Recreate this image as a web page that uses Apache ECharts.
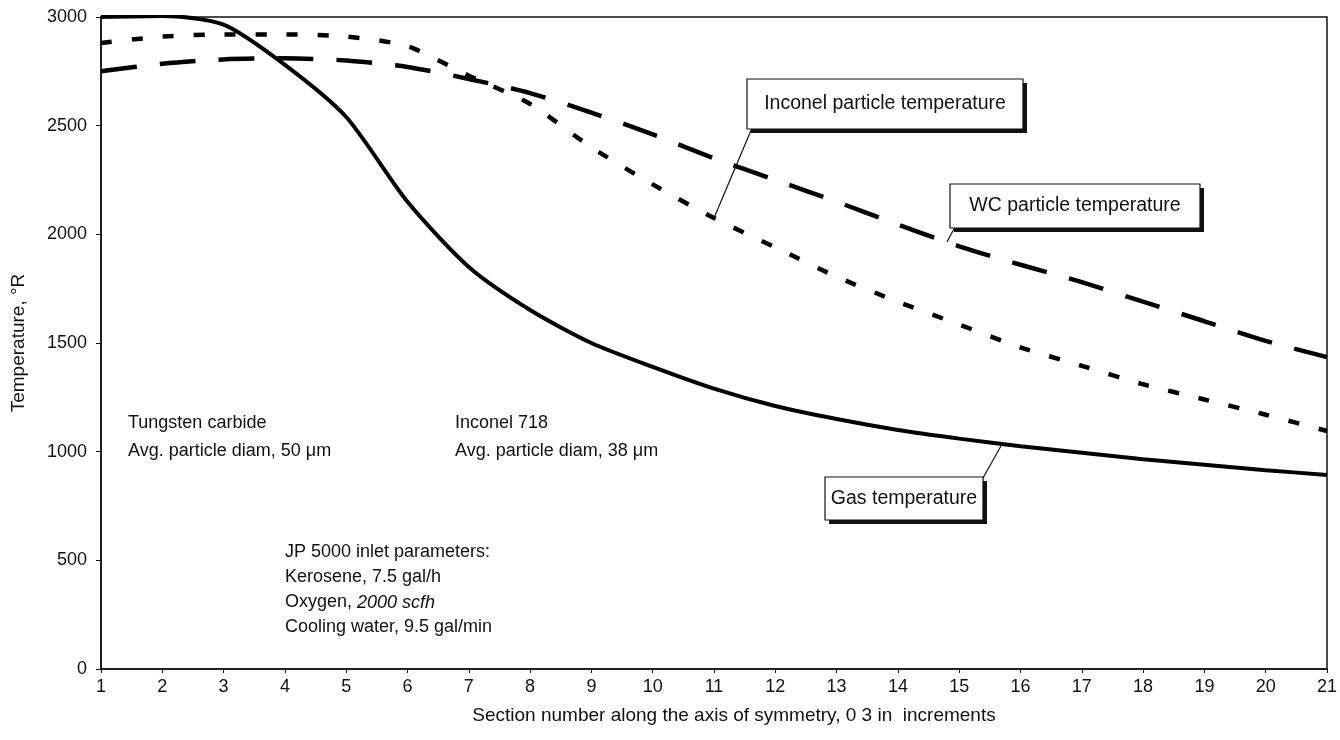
<!DOCTYPE html>
<html>
<head>
<meta charset="utf-8">
<title>Temperature along the axis of symmetry</title>
<script src="https://cdn.jsdelivr.net/npm/echarts@6/dist/echarts.min.js"></script>
<style>
  html, body { margin: 0; padding: 0; background: #fff; }
  #main { width: 1340px; height: 740px; }
</style>
</head>
<body>
<div id="main"></div>
<script>
// section numbers along x
var sections = [1, 2, 3, 4, 5, 6, 7, 8, 9, 10, 11, 12, 13, 14, 15, 16, 17, 18, 19, 20, 21];
// temperatures, deg R
var gasTemp = [3000, 3005, 2965, 2780, 2540, 2150, 1850, 1652, 1500, 1390, 1290, 1210, 1150, 1100, 1060, 1025, 995, 965, 940, 915, 893];
var wcTemp = [2750, 2785, 2805, 2810, 2800, 2770, 2715, 2650, 2560, 2460, 2350, 2250, 2150, 2045, 1945, 1860, 1780, 1690, 1600, 1510, 1435];
var inconelTemp = [2880, 2910, 2920, 2920, 2910, 2865, 2730, 2600, 2400, 2230, 2075, 1940, 1805, 1690, 1585, 1480, 1395, 1310, 1240, 1170, 1095];
var yTicks = [0, 500, 1000, 1500, 2000, 2500, 3000];

var FONT = '"Liberation Sans", Arial, sans-serif';

function pairs(ys) {
    var out = [];
    for (var i = 0; i < sections.length; i++) {
        out.push([sections[i], ys[i]]);
    }
    return out;
}
// linear interpolation along a series, for anchoring the callout leaders
function at(ys, x) {
    var i = Math.floor(x) - 1;
    var f = x - Math.floor(x);
    if (i >= ys.length - 1) return ys[ys.length - 1];
    return ys[i] + (ys[i + 1] - ys[i]) * f;
}

var myChart = echarts.init(document.getElementById('main'));

var option = {
    backgroundColor: '#fff',
    animation: false,
    grid: {
        left: 101,
        right: 10,
        top: 17,
        bottom: 71,
        show: true,
        borderColor: '#111',
        borderWidth: 1.5
    },
    xAxis: {
        type: 'value',
        min: 1,
        max: 21,
        interval: 1,
        name: 'Section number along the axis of symmetry, 0 3 in  increments',
        nameLocation: 'middle',
        nameGap: 37,
        nameTextStyle: { fontFamily: FONT, fontSize: 19, color: '#111', padding: [0, 0, 0, 40] },
        axisLine: { show: true, onZero: false, lineStyle: { color: '#111', width: 1.5 } },
        axisTick: { show: true, length: 4, lineStyle: { color: '#111' } },
        axisLabel: { fontFamily: FONT, fontSize: 18, color: '#111', margin: 9 },
        splitLine: { show: false }
    },
    yAxis: {
        type: 'value',
        min: 0,
        max: 3000,
        interval: 500,
        name: 'Temperature, °R',
        nameLocation: 'middle',
        nameGap: 73,
        nameTextStyle: { fontFamily: FONT, fontSize: 19, color: '#111' },
        axisLine: { show: true, lineStyle: { color: '#111', width: 1.5 } },
        axisTick: { show: true, length: 5, lineStyle: { color: '#111' } },
        axisLabel: {
            fontFamily: FONT, fontSize: 18, color: '#111', margin: 14,
            formatter: function (v) { return yTicks.indexOf(v) >= 0 ? String(v) : ''; }
        },
        splitLine: { show: false }
    },
    series: [
        {
            name: 'Gas temperature',
            type: 'line',
            data: pairs(gasTemp),
            showSymbol: false,
            smooth: 0.25,
            lineStyle: { color: '#000', width: 4 }
        },
        {
            name: 'WC particle temperature',
            type: 'line',
            data: pairs(wcTemp),
            showSymbol: false,
            smooth: 0.25,
            lineStyle: { color: '#000', width: 4.5, type: [36, 23] }
        },
        {
            name: 'Inconel particle temperature',
            type: 'line',
            data: pairs(inconelTemp),
            showSymbol: false,
            smooth: 0.25,
            lineStyle: { color: '#000', width: 4.5, type: [11, 20] }
        }
    ]
};
myChart.setOption(option);

// callout box with a dark drop shadow and a leader line to the curve
function callout(text, x, y, w, h, from, to) {
    return {
        type: 'group',
        children: [
            { type: 'line', shape: { x1: from[0], y1: from[1], x2: to[0], y2: to[1] }, style: { stroke: '#111', lineWidth: 1.2 }, z: 10 },
            { type: 'rect', shape: { x: x + 4, y: y + 4, width: w, height: h }, style: { fill: '#111' }, z: 10 },
            { type: 'rect', shape: { x: x, y: y, width: w, height: h }, style: { fill: '#fff', stroke: '#111', lineWidth: 1.2 }, z: 11 },
            { type: 'text', x: x + w / 2, y: y + h / 2, style: { text: text, font: '19.5px ' + FONT, fill: '#111', align: 'center', verticalAlign: 'middle' }, z: 12 }
        ]
    };
}
function note(lines, x, y, lh) {
    return {
        type: 'text', x: x, y: y, z: 12,
        style: {
            text: lines.join('\n'),
            font: '18px ' + FONT,
            fill: '#111',
            lineHeight: lh,
            rich: {
                i: { fontStyle: 'italic', fontFamily: FONT, fontSize: 18, lineHeight: lh }
            }
        }
    };
}

var pInc = myChart.convertToPixel('grid', [11, at(inconelTemp, 11)]);
var pWc = myChart.convertToPixel('grid', [14.8, at(wcTemp, 14.8)]);
var pGas = myChart.convertToPixel('grid', [15.7, at(gasTemp, 15.7)]);

myChart.setOption({
    graphic: [
        callout('Inconel particle temperature', 747, 79, 276, 50, [752, 128], pInc),
        callout('WC particle temperature', 950, 184, 250, 44, [955, 227], pWc),
        callout('Gas temperature', 825, 477, 158, 43, [983, 478], pGas),
        note(['Tungsten carbide', 'Avg. particle diam, 50 \u03bcm'], 128, 409, 28),
        note(['Inconel 718', 'Avg. particle diam, 38 \u03bcm'], 455, 409, 28),
        note(['JP 5000 inlet parameters:', 'Kerosene, 7.5 gal/h', 'Oxygen, {i|2000 scfh}', 'Cooling water, 9.5 gal/min'], 285, 540, 25)
    ]
});
</script>
</body>
</html>
